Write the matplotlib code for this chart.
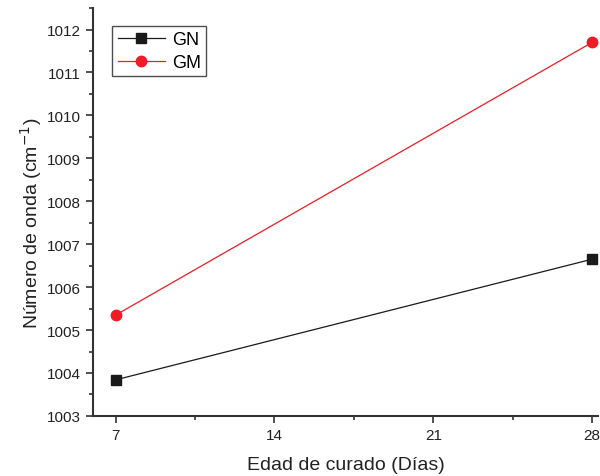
import matplotlib
matplotlib.use("Agg")
import matplotlib.pyplot as plt
from matplotlib.ticker import MultipleLocator

plt.rcParams['font.family'] = ['Liberation Sans', 'DejaVu Sans']

dias = [7, 28]
gn = [1003.84, 1006.65]
gm = [1005.35, 1011.70]
xticks = [7, 14, 21, 28]

fig = plt.figure(figsize=(6, 4.77), dpi=100)
ax = fig.add_axes([0.155, 0.126, 0.842, 0.855])

ax.plot(dias, gn, color='#1a1a1a', lw=0.9, marker='s', ms=7, label='GN')
ax.plot(dias, gm, color='#ee1c25', lw=0.9, marker='o', ms=7.5, label='GM')

ax.set_xlim(6.0, 28.27)
ax.set_ylim(1003, 1012.5)
ax.set_xticks(xticks)
ax.xaxis.set_minor_locator(MultipleLocator(3.5))
ax.yaxis.set_major_locator(MultipleLocator(1))
ax.yaxis.set_minor_locator(MultipleLocator(0.5))
ax.tick_params(axis='both', which='major', direction='out', length=5, width=1.2,
               labelsize=11, color='#333333', labelcolor='#222222')
ax.tick_params(axis='both', which='minor', direction='out', length=3, width=1.2, color='#333333')

for s in ['top', 'right']:
    ax.spines[s].set_visible(False)
for s in ['left', 'bottom']:
    ax.spines[s].set_linewidth(1.5)
    ax.spines[s].set_color('#333333')

ax.set_xlabel('Edad de curado (Días)', fontsize=14, color='#222222', labelpad=10)
ax.set_ylabel('Número de onda (cm$^{-1}$)', fontsize=14, color='#222222')
ax.yaxis.set_label_coords(-0.097, 0.475)

leg = ax.legend(loc='upper left', bbox_to_anchor=(0.038, 0.956), borderaxespad=0,
                fontsize=13, frameon=True, fancybox=False, edgecolor='#222222',
                handlelength=2.6, borderpad=0.3, labelspacing=0.3, handletextpad=0.4)
leg.get_frame().set_linewidth(1.0)

fig.savefig('out.png', dpi=100)
